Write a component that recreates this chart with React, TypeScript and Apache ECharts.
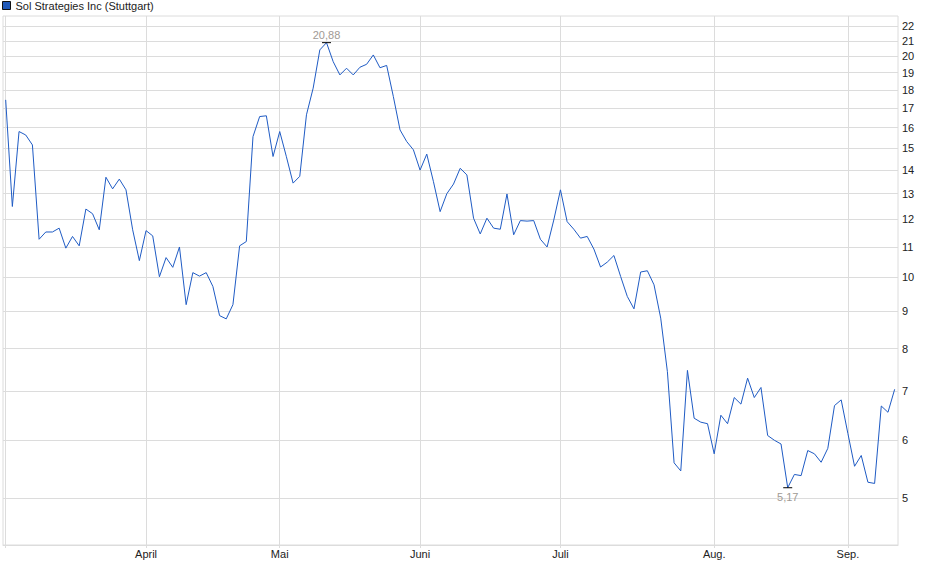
import React, { useEffect, useRef } from 'react';
import * as echarts from 'echarts';

const seriesName = 'Sol Strategies Inc (Stuttgart)';

// daily closing prices (EUR), one per trading day
const prices: number[] = [
  17.45, 12.49, 15.8, 15.63, 15.15, 11.27, 11.53, 11.53, 11.67, 10.96,
  11.37, 11.04, 12.39, 12.21, 11.61, 13.69, 13.2, 13.61, 13.16, 11.61,
  10.54, 11.58, 11.39, 10.02, 10.64, 10.32, 11.0, 9.18, 10.15, 10.04,
  10.15, 9.72, 8.87, 8.78, 9.18, 11.04, 11.19, 15.55, 16.56, 16.6,
  14.61, 15.8, 14.6, 13.44, 13.73, 16.65, 18.1, 20.41, 20.88, 19.67,
  18.87, 19.27, 18.87, 19.33, 19.51, 20.09, 19.3, 19.44, 17.63, 15.88,
  15.31, 14.92, 14.0, 14.72, 13.5, 12.29, 13.0, 13.4, 14.08, 13.79,
  12.04, 11.46, 12.04, 11.67, 11.63, 12.99, 11.43, 11.95, 11.93, 11.95,
  11.27, 11.0, 11.97, 13.16, 11.91, 11.63, 11.31, 11.37, 10.93, 10.33,
  10.49, 10.71, 10.03, 9.42, 9.06, 10.17, 10.21, 9.77, 8.8, 7.44,
  5.59, 5.45, 7.47, 6.43, 6.35, 6.32, 5.75, 6.49, 6.32, 6.86,
  6.72, 7.29, 6.86, 7.08, 6.09, 6.0, 5.93, 5.17, 5.39, 5.37,
  5.81, 5.75, 5.6, 5.85, 6.69, 6.81, 6.13, 5.53, 5.72, 5.26,
  5.24, 6.68, 6.55, 7.04,
];

const monthLabels: string[] = ['April', 'Mai', 'Juni', 'Juli', 'Aug.', 'Sep.'];
const monthStartIdx: number[] = [21, 41, 62, 83, 106, 126];
const yTicks: number[] = [5, 6, 7, 8, 9, 10, 11, 12, 13, 14, 15, 16, 17, 18, 19, 20, 21, 22];

const FONT = '"Liberation Sans", Arial, Helvetica, sans-serif';
const GRID = '#dcdcdc';
const TEXT = '#222222';
const LINE = '#1f5bc4';

const fmtDe = (v: number) => v.toFixed(2).replace('.', ',');

export default function App() {
  const ref = useRef<HTMLDivElement>(null);

  useEffect(() => {
    if (!ref.current) return;
    const chart = echarts.init(ref.current, null, { renderer: 'svg' });
    const data = prices.map((v, i) => [i, v]);

    chart.setOption({
      animation: false,
      backgroundColor: '#ffffff',
      textStyle: { fontFamily: FONT },
      legend: {
        left: 2,
        top: 0,
        padding: 0,
        itemWidth: 8,
        itemHeight: 8,
        icon: 'rect',
        textStyle: { fontFamily: FONT, fontSize: 11, color: TEXT },
        data: [
          {
            name: seriesName,
            itemStyle: { color: '#1f58b8', borderColor: '#111111', borderWidth: 1 },
          },
        ],
      },
      grid: {
        left: 3,
        right: 940 - 898,
        top: 16,
        bottom: 579 - 545,
        show: true,
        borderColor: GRID,
        borderWidth: 1,
        containLabel: false,
      },
      xAxis: {
        type: 'value',
        min: -0.4,
        max: 133.5,
        axisLine: { show: true, lineStyle: { color: GRID } },
        axisTick: {
          show: true,
          length: 3,
          lineStyle: { color: GRID },
          customValues: [0, ...monthStartIdx],
        },
        axisLabel: {
          customValues: monthStartIdx,
          formatter: (v: number) => {
            const k = monthStartIdx.indexOf(Math.round(v));
            return k >= 0 ? monthLabels[k] : '';
          },
          margin: 3,
          fontFamily: FONT,
          fontSize: 11,
          color: TEXT,
        },
        splitLine: { show: true, lineStyle: { color: GRID, width: 1 } },
      },
      yAxis: {
        type: 'log',
        logBase: 10,
        min: 4.32,
        max: 22.7,
        position: 'right',
        axisLine: { show: false },
        axisTick: { show: false, customValues: yTicks },
        axisLabel: {
          customValues: yTicks,
          margin: 4,
          fontFamily: FONT,
          fontSize: 11,
          color: TEXT,
          formatter: (v: number) => String(Math.round(v)),
        },
        splitLine: { show: true, lineStyle: { color: GRID, width: 1 } },
      },
      series: [
        {
          name: seriesName,
          type: 'line',
          data,
          showSymbol: false,
          symbol: 'none',
          color: LINE,
          lineStyle: { color: LINE, width: 1 },
          markPoint: {
            symbol: 'rect',
            symbolSize: [9, 1],
            itemStyle: { color: '#000000' },
            label: {
              show: true,
              fontFamily: FONT,
              fontSize: 11,
              color: '#a09a94',
              formatter: (p: any) => fmtDe(Number(p.value)),
            },
            data: [
              { type: 'max', valueDim: 'y', label: { position: 'top', distance: 2 } },
              { type: 'min', valueDim: 'y', label: { position: 'bottom', distance: 3 } },
            ],
          },
        },
      ],
    });

    return () => chart.dispose();
  }, []);

  return (
    <div
      ref={ref}
      style={{ position: 'fixed', left: 0, top: 0, width: 940, height: 579, background: '#fff' }}
    />
  );
}
